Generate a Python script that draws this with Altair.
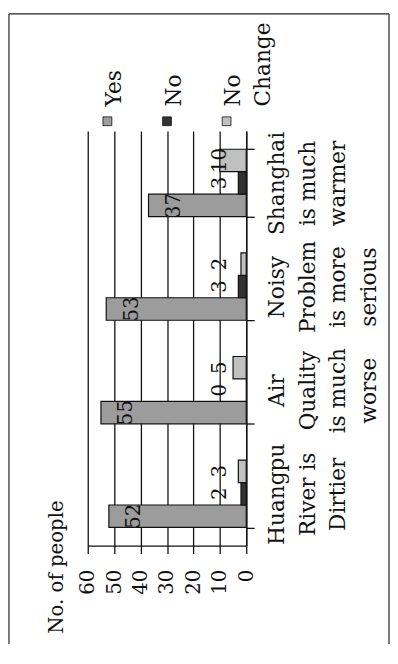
import altair as alt
import pandas as pd

# ---- data ----
categories = ["Huangpu|River is|Dirtier", "Air|Quality|is much|worse",
              "Noisy|Problem|is more|serious", "Shanghai|is much|warmer"]
series = ["Yes", "No", "No Change"]
yes_values = [52, 55, 53, 37]
no_values = [2, 0, 3, 3]
no_change_values = [3, 5, 2, 10]
value_ticks = [0, 10, 20, 30, 40, 50, 60]
axis_title = "No. of people"
colors = ["#9c9c9c", "#333333", "#c0c0c0"]

rows = []
for i, c in enumerate(categories):
    for s, vals in zip(series, [yes_values, no_values, no_change_values]):
        rows.append({"category": c, "series": s, "value": vals[i]})
df = pd.DataFrame(rows)
legend_df = pd.DataFrame({"series": series})

FONT = "DejaVu Serif"
INK = "#111111"
SMALL_LABEL_AT = 10  # small-bar labels sit on the 10 grid line

color_scale = alt.Scale(domain=series, range=colors)
x_scale = alt.Scale(domain=[0, 60], reverse=True, nice=False)
x_axis = alt.Axis(
    values=value_ticks, tickCount=len(value_ticks), orient="bottom",
    grid=True, gridColor="#111111", gridWidth=1.3,
    domainColor=INK, domainWidth=1.3, tickColor=INK, tickWidth=1.3, tickSize=8,
    labelOverlap=False,
    labelAngle=270, labelAlign="right", labelBaseline="middle",
    labelFont=FONT, labelFontSize=20, labelColor=INK, labelPadding=16,
    title=axis_title, titleFont=FONT, titleFontSize=20, titleFontWeight="normal",
    titleColor=INK, titleAngle=270, titleAlign="left", titleBaseline="alphabetic",
    titleX=-26, titleY=89,
)
y_axis = alt.Axis(
    orient="right", title=None, labelExpr="split(datum.label, '|')",
    labelAngle=270, labelAlign="center", labelBaseline="top",
    labelFont=FONT, labelFontSize=22, labelColor=INK, labelLineHeight=31,
    labelPadding=13, labelLimit=0, tickBand="extent", tickSize=8,
    labelOverlap=False, domainColor=INK, domainWidth=1.3, tickColor=INK,
    tickWidth=1.3, grid=False,
)
y_enc = alt.Y("category:N", sort=categories[::-1],
              scale=alt.Scale(paddingInner=0.35, paddingOuter=0.175), axis=y_axis)
yoff_enc = alt.YOffset("series:N", sort=series[::-1],
                       scale=alt.Scale(paddingInner=0, paddingOuter=0))

bars = alt.Chart(df).mark_bar(stroke=INK, strokeWidth=1.2).encode(
    x=alt.X("value:Q", scale=x_scale, axis=x_axis), y=y_enc, yOffset=yoff_enc,
    color=alt.Color("series:N", scale=color_scale, legend=None),
)

yes_labels = alt.Chart(df).transform_filter("datum.series == 'Yes'").mark_text(
    angle=270, align="center", baseline="middle", dy=26,
    font=FONT, fontSize=20, color=INK,
).encode(x=alt.X("value:Q", scale=x_scale, axis=x_axis), y=y_enc,
         yOffset=yoff_enc, text="value:Q")

small_labels = alt.Chart(df).transform_filter("datum.series != 'Yes'").transform_calculate(
    labelpos=f"max(datum.value, {SMALL_LABEL_AT})"
).mark_text(
    angle=270, align="center", baseline="middle",
    font=FONT, fontSize=20, color=INK,
).encode(x=alt.X("labelpos:Q", scale=x_scale, axis=x_axis), y=y_enc,
         yOffset=yoff_enc, text="value:Q")

main = alt.layer(bars, yes_labels, small_labels)

leg_x = alt.X("series:N", sort=series, scale=alt.Scale(type="point", padding=0.33), axis=None)
leg_sym = alt.Chart(legend_df).mark_square(size=80, opacity=1, stroke=INK, strokeWidth=0.8).encode(
    x=leg_x, y=alt.value(-10),
    color=alt.Color("series:N", scale=color_scale, legend=None),
)
leg_txt = alt.Chart(legend_df).mark_text(
    angle=270, align="left", baseline="alphabetic", dy=14, lineBreak=" ", lineHeight=30,
    font=FONT, fontSize=22, color=INK,
).encode(x=leg_x, y=alt.value(-25), text="series:N")
legend = alt.layer(leg_sym, leg_txt)

frame_data = alt.Data(values=[{"f": 0}])
frame_left = alt.Chart(frame_data).mark_rule(color="#222", strokeWidth=1.2).encode(
    x=alt.value(-80), y=alt.value(-119), y2=alt.value(521))
frame_right = alt.Chart(frame_data).mark_rule(color="#222", strokeWidth=1.2).encode(
    x=alt.value(306), y=alt.value(-119), y2=alt.value(521))
frame_top = alt.Chart(frame_data).mark_rule(color="#222", strokeWidth=1.2).encode(
    x=alt.value(-80), x2=alt.value(306), y=alt.value(-119))

chart = alt.layer(main, legend, frame_left, frame_right, frame_top).resolve_scale(
    x="independent"
).properties(
    width=161, height=421, padding=0, background="white"
).configure_view(stroke=None)

chart.save("out.html", embed_options={"renderer": "svg", "actions": False})
